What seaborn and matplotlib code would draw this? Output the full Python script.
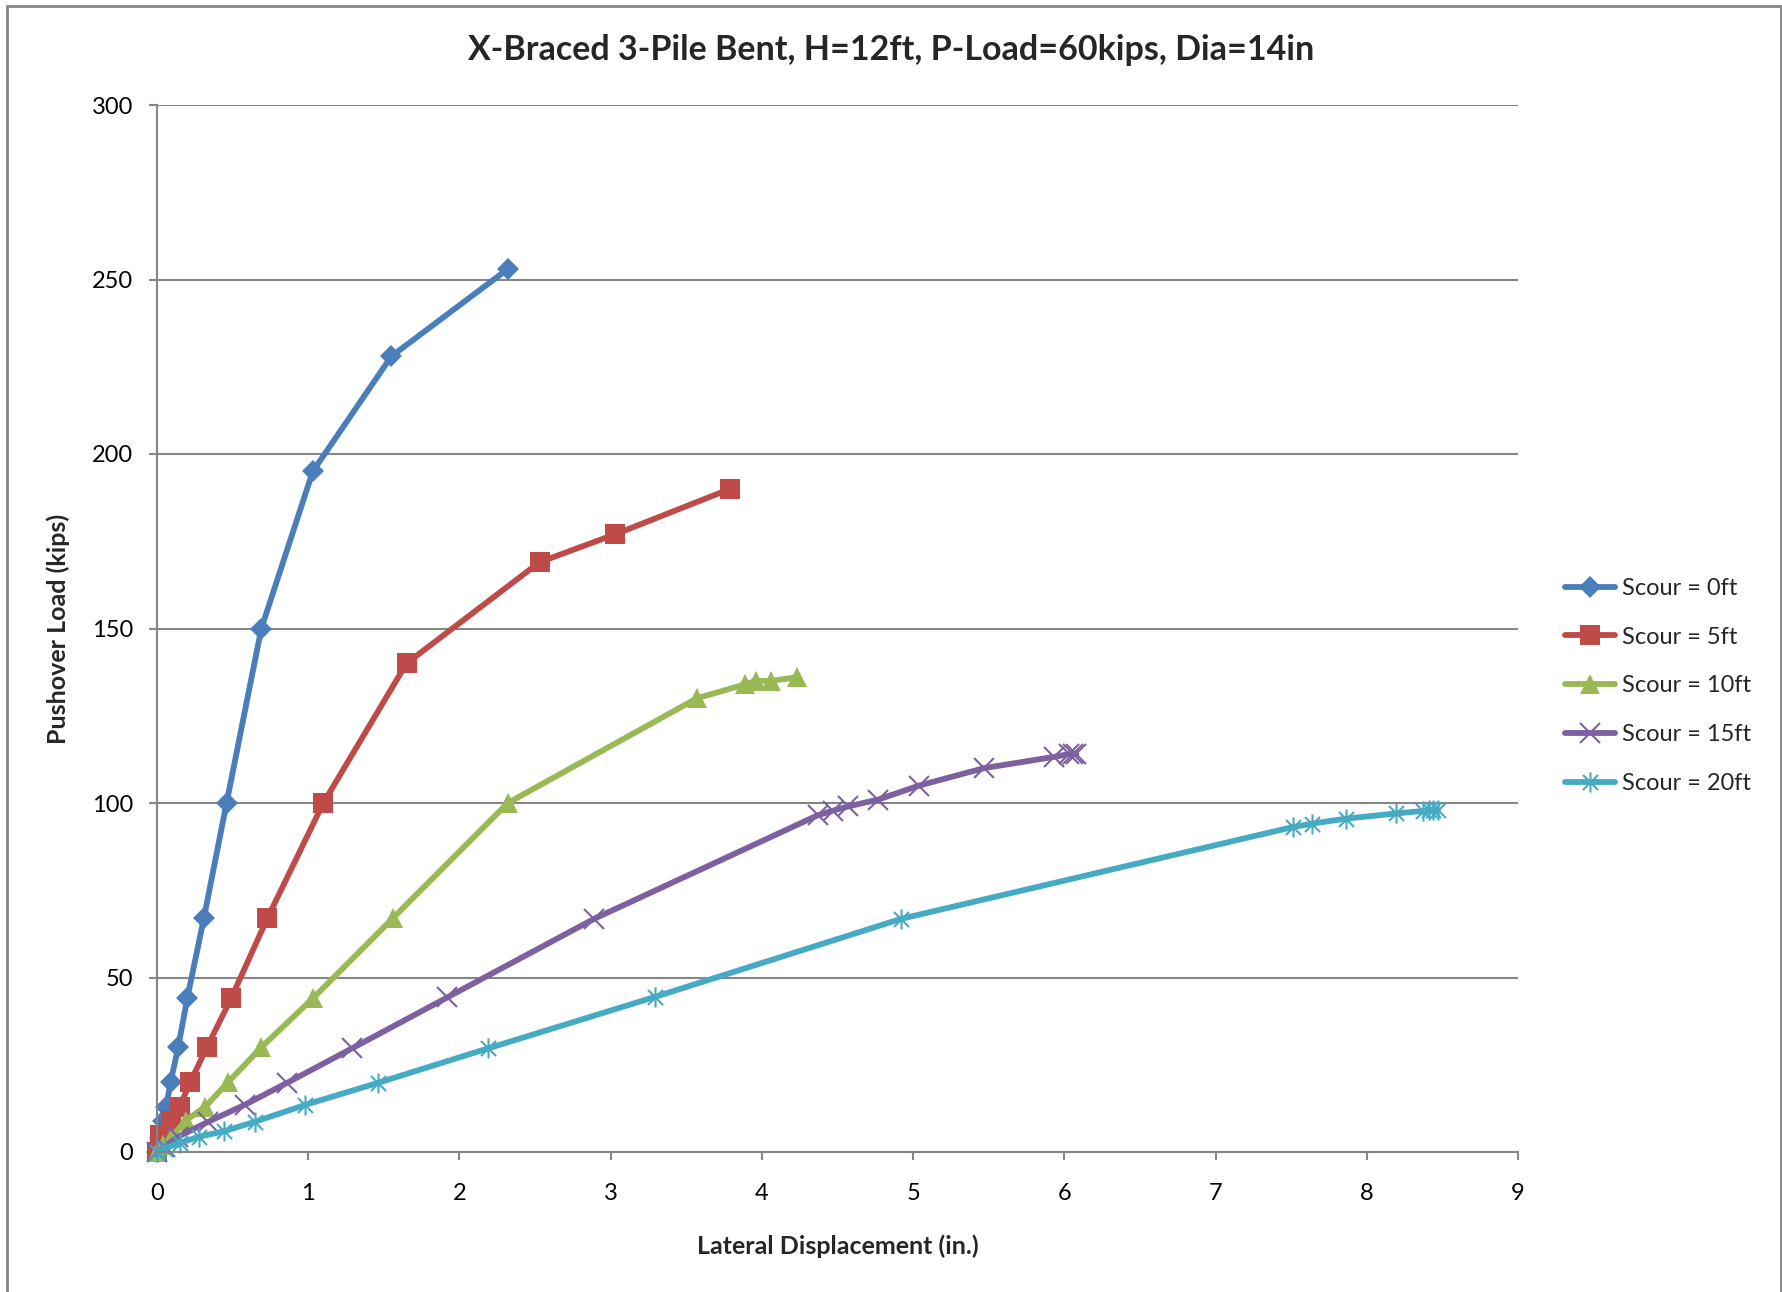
import numpy as np
import pandas as pd
import matplotlib
matplotlib.use("Agg")
import matplotlib.pyplot as plt
from matplotlib.path import Path
from matplotlib.patches import Rectangle
import seaborn as sns

# Pushover curves
disp_0 = [0, 0.02, 0.04, 0.06, 0.09, 0.14, 0.20, 0.31, 0.46, 0.69, 1.03, 1.55, 2.32]
load_0 = [0, 4, 9, 13, 20, 30, 44, 67, 100, 150, 195, 228, 253]

disp_5 = [0, 0.02, 0.09, 0.15, 0.22, 0.33, 0.49, 0.73, 1.10, 1.65, 2.53, 3.03, 3.79]
load_5 = [0, 5, 9, 13, 20, 30, 44, 67, 100, 140, 169, 177, 190]

disp_10 = [0, 0.04, 0.09, 0.19, 0.32, 0.47, 0.69, 1.03, 1.56, 2.32, 3.57, 3.89, 3.96, 4.06, 4.23]
load_10 = [0, 2, 4, 9, 13, 20, 30, 44, 67, 100, 130, 134, 135, 135, 136]

disp_15 = [0, 0.05, 0.14, 0.34, 0.58, 0.86, 1.29, 1.92, 2.89, 4.37, 4.47, 4.57, 4.77,
           5.04, 5.47, 5.93, 6.03, 6.06, 6.08]
load_15 = [0, 1.5, 4.4, 8.7, 13.5, 19.8, 29.7, 44.3, 66.8, 96.5, 97.8, 99, 101,
           105, 110, 113.2, 114, 114, 114]

disp_20 = [0, 0.05, 0.15, 0.28, 0.44, 0.65, 0.98, 1.46, 2.19, 3.29, 4.92, 7.51, 7.64,
           7.86, 8.19, 8.37, 8.41, 8.44, 8.47]
load_20 = [0, 1, 2.6, 4.4, 5.9, 8.7, 13.5, 19.8, 29.7, 44.4, 66.8, 93.1, 94.1,
           95.5, 97, 97.7, 97.9, 98, 98]

labels = ["Scour = 0ft", "Scour = 5ft", "Scour = 10ft", "Scour = 15ft", "Scour = 20ft"]
x_ticks = list(range(0, 10))
y_ticks = list(range(0, 301, 50))

sns.set_style("white")
plt.rcParams["font.family"] = ["Lato", "DejaVu Sans"]

# Excel style star marker: vertical bar plus an X
star = Path(
    [(0, -1), (0, 1), (-0.75, -0.75), (0.75, 0.75), (-0.75, 0.75), (0.75, -0.75)],
    [Path.MOVETO, Path.LINETO] * 3,
)

styles = [
    dict(color="#4A7EBB", marker="D", markersize=11, markeredgewidth=0),
    dict(color="#BE4B48", marker="s", markersize=14.5, markeredgewidth=0),
    dict(color="#98B954", marker="^", markersize=14.5, markeredgewidth=0),
    dict(color="#7D60A0", marker="x", markersize=14.5, markeredgewidth=1.5),
    dict(color="#46AAC5", marker=star, markersize=14.5, markeredgewidth=1.5),
]

series = [(disp_0, load_0), (disp_5, load_5), (disp_10, load_10),
          (disp_15, load_15), (disp_20, load_20)]

fig = plt.figure(figsize=(17.83, 12.92), dpi=100)
ax = fig.add_axes([157 / 1783, 1 - 1152 / 1292, 1361 / 1783, 1047 / 1292])

for (xs, ys), label, st in zip(series, labels, styles):
    df = pd.DataFrame({"disp": xs, "load": ys})
    sns.lineplot(data=df, x="disp", y="load", ax=ax, sort=False, label=label,
                 linewidth=4.2, clip_on=False, markeredgecolor=st["color"], **st)

gray = "#868686"
ax.set_xlim(0, 9)
ax.set_ylim(0, 300)
ax.set_xticks(x_ticks)
ax.set_yticks(y_ticks)
ax.grid(axis="y", color=gray, linewidth=1.5)
ax.grid(axis="x", visible=False)
ax.set_axisbelow(True)
for side in ["top", "right"]:
    ax.spines[side].set_visible(False)
for side in ["left", "bottom"]:
    ax.spines[side].set_color(gray)
    ax.spines[side].set_linewidth(1.5)
ax.tick_params(axis="both", direction="out", length=6, width=1.5, color=gray,
               labelsize=17, labelcolor="black")
ax.tick_params(axis="x", pad=16, bottom=True)
ax.tick_params(axis="y", pad=11, left=True)

ax.set_xlabel("Lateral Displacement (in.)", fontsize=18, fontweight="bold")
ax.set_ylabel("Pushover Load (kips)", fontsize=18, fontweight="bold")
ax.xaxis.set_label_coords(0.5, -(1246 - 1152) / 1047)
ax.xaxis.label.set_verticalalignment("center")
ax.yaxis.set_label_coords(-(158 - 59) / 1361, 0.5)
ax.yaxis.label.set_verticalalignment("center")

fig.text(891 / 1783, 1 - 50 / 1292, "X-Braced 3-Pile Bent, H=12ft, P-Load=60kips, Dia=14in",
         ha="center", va="center", fontsize=24.5, fontweight="bold")

ax.legend(loc="center left", bbox_to_anchor=(1565 / 1783, 1 - 686 / 1292),
          bbox_transform=fig.transFigure, frameon=False, fontsize=17,
          handlelength=2.1, handletextpad=0.3, labelspacing=1.18,
          borderpad=0, borderaxespad=0)

# chart area border
fig.patches.append(Rectangle((7 / 1783, -0.02), 1774 / 1783, 1.02 - 6 / 1292,
                             transform=fig.transFigure, fill=False,
                             edgecolor=gray, linewidth=2))

fig.savefig("out.png", dpi=100)
